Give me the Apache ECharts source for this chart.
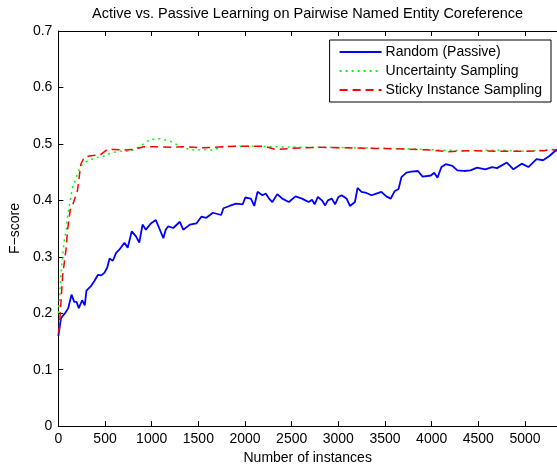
<!DOCTYPE html>
<html>
<head>
<meta charset="utf-8">
<script src="https://cdn.jsdelivr.net/npm/echarts@6/dist/echarts.min.js"></script>
<style>
  html, body { margin: 0; padding: 0; background: #fff; }
  #chart { width: 557px; height: 470px; }
</style>
</head>
<body>
<div id="chart"></div>
<script>
const xTicks = [0, 500, 1000, 1500, 2000, 2500, 3000, 3500, 4000, 4500, 5000];

const randomX = [0, 7, 28, 71, 106, 141, 170, 195, 219, 255, 283, 301, 354, 389, 425, 460, 495, 524, 548, 584, 619,
  655, 708, 743, 786, 832, 867, 902, 938, 991, 1044, 1080, 1125, 1150, 1178, 1231, 1302, 1338, 1409, 1479, 1532, 1585,
  1656, 1744, 1769, 1833, 1904, 1975, 2003, 2063, 2099, 2134, 2187, 2222, 2258, 2293, 2346, 2399, 2470, 2541, 2611,
  2647, 2682, 2718, 2746, 2781, 2824, 2859, 2888, 2930, 2965, 3001, 3036, 3089, 3124, 3178, 3206, 3248, 3301, 3355,
  3408, 3461, 3514, 3562, 3602, 3645, 3676, 3729, 3782, 3853, 3903, 3992, 4027, 4062, 4105, 4151, 4222, 4275, 4345,
  4416, 4487, 4575, 4647, 4700, 4806, 4876, 4965, 5036, 5124, 5194, 5265, 5318, 5343];
const randomY = [0.160, 0.162, 0.191, 0.200, 0.209, 0.233, 0.220, 0.220, 0.209, 0.223, 0.214, 0.240, 0.249, 0.258,
  0.268, 0.267, 0.272, 0.281, 0.297, 0.293, 0.307, 0.313, 0.325, 0.316, 0.345, 0.336, 0.325, 0.357, 0.348, 0.359,
  0.365, 0.351, 0.333, 0.348, 0.354, 0.351, 0.362, 0.348, 0.357, 0.359, 0.371, 0.369, 0.378, 0.374, 0.386, 0.390,
  0.394, 0.393, 0.405, 0.403, 0.390, 0.415, 0.409, 0.412, 0.403, 0.397, 0.411, 0.403, 0.397, 0.407, 0.403, 0.400,
  0.397, 0.401, 0.393, 0.406, 0.400, 0.391, 0.400, 0.403, 0.393, 0.406, 0.409, 0.403, 0.390, 0.397, 0.422, 0.415,
  0.413, 0.409, 0.412, 0.415, 0.407, 0.403, 0.416, 0.420, 0.441, 0.449, 0.451, 0.452, 0.442, 0.444, 0.449, 0.440,
  0.459, 0.464, 0.461, 0.453, 0.452, 0.453, 0.458, 0.455, 0.459, 0.457, 0.467, 0.455, 0.465, 0.459, 0.473, 0.471,
  0.479, 0.487, 0.488];

const uncertaintyX = [0, 14, 28, 46, 64, 82, 99, 127, 152, 180, 205, 241, 311, 417, 506, 559, 665, 772, 878, 984,
  1090, 1196, 1338, 1450, 1550, 1650, 1762, 1975, 2300, 2600, 2900, 3200, 3500, 3800, 4100, 4400, 4700, 5000, 5200, 5343];
const uncertaintyY = [0.200, 0.230, 0.272, 0.300, 0.330, 0.345, 0.371, 0.400, 0.423, 0.435, 0.447, 0.461, 0.470,
  0.476, 0.479, 0.484, 0.487, 0.487, 0.496, 0.508, 0.509, 0.505, 0.493, 0.489, 0.490, 0.489, 0.495, 0.496, 0.495,
  0.494, 0.494, 0.493, 0.492, 0.491, 0.489, 0.488, 0.489, 0.487, 0.489, 0.491];

const stickyX = [0, 11, 28, 46, 64, 82, 99, 127, 150, 170, 190, 205, 223, 241, 276, 347, 453, 524, 594, 700, 807,
  913, 1072, 1196, 1338, 1550, 1762, 1975, 2200, 2328, 2500, 2800, 3100, 3400, 3700, 4000, 4180, 4400, 4700, 5000,
  5200, 5343];
const stickyY = [0.165, 0.174, 0.220, 0.267, 0.290, 0.313, 0.348, 0.383, 0.390, 0.400, 0.410, 0.418, 0.441, 0.464,
  0.476, 0.479, 0.481, 0.490, 0.490, 0.489, 0.490, 0.495, 0.495, 0.494, 0.495, 0.493, 0.495, 0.496, 0.496, 0.490,
  0.492, 0.494, 0.493, 0.492, 0.491, 0.489, 0.486, 0.488, 0.487, 0.487, 0.488, 0.490];

function pairs(xs, ys) {
  return xs.map((x, i) => [x, ys[i]]);
}

const font = 'Liberation Sans, Arial, Helvetica, sans-serif';
const chart = echarts.init(document.getElementById('chart'), null, { renderer: 'canvas' });

const lineCommon = {
  type: 'line',
  symbol: 'none',
  animation: false,
};

const topAxisTick = { inside: true, length: 5, lineStyle: { color: '#000' }, customValues: xTicks };

chart.setOption({
  backgroundColor: '#fff',
  textStyle: { fontFamily: font, color: '#000' },
  title: {
    text: 'Active vs. Passive Learning on Pairwise Named Entity Coreference',
    left: 92,
    top: 6,
    padding: 0,
    textStyle: { fontFamily: font, fontSize: 14.5, fontWeight: 'normal', color: '#000' },
  },
  legend: {
    orient: 'vertical',
    right: 6,
    top: 40,
    padding: [5, 9, 5, 9],
    itemWidth: 42,
    itemHeight: 14,
    itemGap: 5,
    borderColor: '#000',
    borderWidth: 1,
    backgroundColor: '#fff',
    itemStyle: { opacity: 0 },
    textStyle: { fontFamily: font, fontSize: 14, color: '#000', padding: [0, 0, 0, -1] },
    data: ['Random (Passive)', 'Uncertainty Sampling', 'Sticky Instance Sampling'],
  },
  grid: { left: 54, right: 0, top: 31, bottom: 37 },
  xAxis: [
    {
      type: 'value',
      min: 0,
      max: 5343,
      name: 'Number of instances',
      nameLocation: 'middle',
      nameGap: 22,
      nameTextStyle: { fontFamily: font, fontSize: 14, color: '#000' },
      axisLine: { lineStyle: { color: '#000', width: 1 } },
      axisTick: topAxisTick,
      axisLabel: {
        fontFamily: font, fontSize: 14, color: '#000', margin: 6, customValues: xTicks,
        formatter: (v) => String(v),
      },
      splitLine: { show: false },
    },
    {
      type: 'value',
      min: 0,
      max: 5343,
      position: 'top',
      axisLine: { show: true, onZero: false, lineStyle: { color: '#000', width: 1 } },
      axisTick: topAxisTick,
      axisLabel: { show: false },
      splitLine: { show: false },
    },
  ],
  yAxis: {
    type: 'value',
    min: 0,
    max: 0.7,
    interval: 0.1,
    name: 'F\u2212score',
    nameLocation: 'middle',
    nameGap: 34,
    nameTextStyle: { fontFamily: font, fontSize: 14, color: '#000' },
    axisLine: { show: true, lineStyle: { color: '#000', width: 1 } },
    axisTick: { show: true, inside: true, length: 5, lineStyle: { color: '#000' } },
    axisLabel: { fontFamily: font, fontSize: 14, color: '#000', margin: 6 },
    splitLine: { show: false },
  },
  series: [
    {
      name: 'Random (Passive)',
      data: pairs(randomX, randomY),
      itemStyle: { color: '#0000ff' },
      lineStyle: { color: '#0000ff', width: 1.8, type: 'solid' },
      ...lineCommon,
    },
    {
      name: 'Uncertainty Sampling',
      data: pairs(uncertaintyX, uncertaintyY),
      itemStyle: { color: '#00ff00' },
      lineStyle: { color: '#00ff00', width: 1.5, type: [2, 4] },
      ...lineCommon,
    },
    {
      name: 'Sticky Instance Sampling',
      data: pairs(stickyX, stickyY),
      itemStyle: { color: '#ff0000' },
      lineStyle: { color: '#ff0000', width: 1.5, type: [8, 5] },
      ...lineCommon,
    },
  ],
});
</script>
</body>
</html>
